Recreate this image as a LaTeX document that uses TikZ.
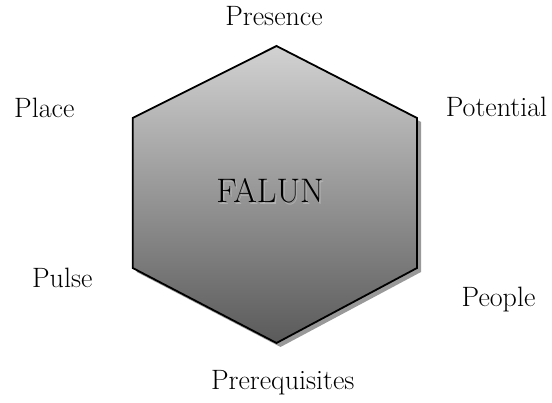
\documentclass[tikz,border=0pt]{standalone}
\definecolor{hextop}{HTML}{D2D2D2}
\definecolor{hexbot}{HTML}{5A5A5A}
\definecolor{shadowgray}{HTML}{999999}
\tikzset{
  lbl/.style={anchor=base, inner sep=0pt, font=\fontsize{28}{30}\selectfont},
  title/.style={anchor=base, inner sep=0pt, font=\fontsize{34}{36}\selectfont},
}
\begin{document}
\begin{tikzpicture}[x=1pt,y=-1pt]
\useasboundingbox (0,0) rectangle (552,403);
\coordinate (t) at (276.5,46);
\coordinate (ur) at (417,118);
\coordinate (lr) at (417,268);
\coordinate (b) at (276.5,343);
\coordinate (ll) at (132.7,268);
\coordinate (ul) at (132.7,118);
% shadow
\fill[shadowgray] ([shift={(4,4)}]t) -- ([shift={(4,4)}]ur) -- ([shift={(4,4)}]lr) -- ([shift={(4,4)}]b) -- ([shift={(4,4)}]ll) -- ([shift={(4,4)}]ul) -- cycle;
% hexagon
\path[draw=black, line width=1.8pt, line join=miter, top color=hextop, bottom color=hexbot]
  (t) -- (ur) -- (lr) -- (b) -- (ll) -- (ul) -- cycle;
% title with shadow
\node[title, text=black!30] (falunshadow) at (271.5,204.5) {FALUN};
\node[title] (falun) at (270,203) {FALUN};
% labels
\node[lbl] (presence) at (274,25.7) {Presence};
\node[lbl] (place) at (44.3,117.3) {Place};
\node[lbl] (potential) at (496.5,117) {Potential};
\node[lbl] (pulse) at (62.3,288) {Pulse};
\node[lbl] (people) at (498.5,306.7) {People};
\node[lbl] (prereq) at (282.8,390) {Prerequisites};
\end{tikzpicture}
\end{document}
